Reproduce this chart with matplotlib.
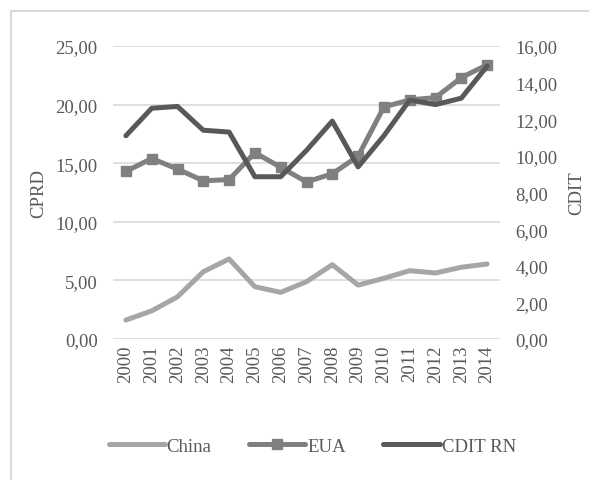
import numpy as np
import matplotlib.pyplot as plt
from matplotlib.ticker import FuncFormatter
from matplotlib.lines import Line2D

# dados
anos = ['2000', '2001', '2002', '2003', '2004', '2005', '2006', '2007',
        '2008', '2009', '2010', '2011', '2012', '2013', '2014']
china = [1.62, 2.40, 3.60, 5.74, 6.83, 4.46, 3.98, 4.89, 6.34, 4.60,
         5.18, 5.83, 5.63, 6.12, 6.40]
eua = [14.3, 15.4, 14.5, 13.5, 13.6, 15.9, 14.65, 13.4, 14.1, 15.6,
       19.8, 20.4, 20.6, 22.3, 23.4]
cdit_rn = [11.1, 12.6, 12.7, 11.4, 11.3, 8.86, 8.86, 10.3, 11.9, 9.4,
           11.1, 13.05, 12.8, 13.15, 14.9]

plt.rcParams['font.family'] = ['Liberation Serif', 'DejaVu Serif']
cor_texto = '#595959'
fs = 13.5
lw = 3.6

fig = plt.figure(figsize=(5.89, 4.81), dpi=100)
ax = fig.add_axes([113 / 589, 1 - 340 / 481, 387 / 589, 293 / 481])
ax2 = ax.twinx()

x = np.arange(len(anos))
ax.plot(x, china, color='#a6a6a6', lw=lw, solid_capstyle='round', zorder=3)
ax.plot(x, eua, color='#808080', lw=lw, marker='s', ms=6.5, solid_capstyle='round', zorder=3)
ax2.plot(x, cdit_rn, color='#595959', lw=lw, solid_capstyle='round', zorder=3)

ax.set_xlim(-0.5, len(anos) - 0.5)
ax.set_ylim(0, 25)
ax2.set_ylim(0, 16)
ax.set_yticks(np.arange(0, 26, 5))
ax2.set_yticks(np.arange(0, 17, 2))
virgula = FuncFormatter(lambda v, p: f'{v:.2f}'.replace('.', ','))
ax.yaxis.set_major_formatter(virgula)
ax2.yaxis.set_major_formatter(virgula)
ax.set_xticks(x)
ax.set_xticklabels(anos, rotation=90)

ax.grid(axis='y', color='#d9d9d9', lw=1.2)
ax.set_axisbelow(True)
for a in (ax, ax2):
    for s in a.spines.values():
        s.set_visible(False)
    a.tick_params(length=0, labelsize=fs, colors=cor_texto)
ax.tick_params(axis='y', pad=11)
ax2.tick_params(axis='y', pad=11)
ax.tick_params(axis='x', pad=4)

ax.set_ylabel('CPRD', fontsize=fs, color=cor_texto, labelpad=6)
ax2.set_ylabel('CDIT', fontsize=fs, color=cor_texto, labelpad=8)

handles = [Line2D([], [], color='#a6a6a6', lw=lw, solid_capstyle='round'),
           Line2D([], [], color='#808080', lw=lw, marker='s', ms=6.5, solid_capstyle='round'),
           Line2D([], [], color='#595959', lw=lw, solid_capstyle='round')]
fig.legend(handles, ['China', 'EUA', 'CDIT RN'], loc='center', ncol=3,
           bbox_to_anchor=(0.53, 1 - 447 / 481), frameon=False, fontsize=fs,
           handlelength=3.0, handletextpad=0.1, columnspacing=2.0,
           labelcolor=cor_texto)

# borda
fig.add_artist(Line2D([11 / 589, 11 / 589], [0, 1 - 12 / 481], color='#d9d9d9', lw=1.5))
fig.add_artist(Line2D([11 / 589, 1], [1 - 12 / 481, 1 - 12 / 481], color='#d9d9d9', lw=1.5))

fig.savefig('out.png', dpi=100)
